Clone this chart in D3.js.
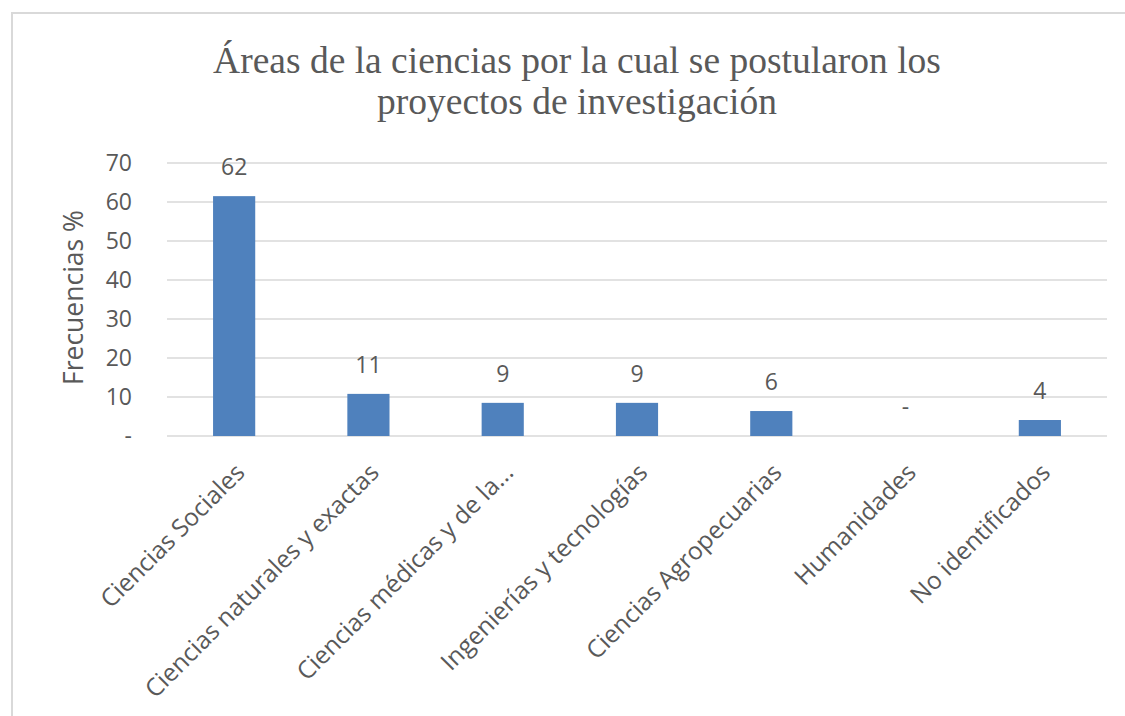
<!DOCTYPE html>
<html>
<head>
<meta charset="utf-8">
<script src="https://cdn.jsdelivr.net/npm/d3@7"></script>
<style>
  html, body { margin: 0; padding: 0; background: #fff; }
  svg { display: block; }
</style>
</head>
<body>
<svg id="chart" width="1125" height="716"></svg>
<script>
const categories = [
  'Ciencias Sociales',
  'Ciencias naturales y exactas',
  'Ciencias médicas y de la...',
  'Ingenierías y tecnologías',
  'Ciencias Agropecuarias',
  'Humanidades',
  'No identificados'
];
const values = [61.5, 10.8, 8.5, 8.5, 6.4, 0, 4.1];
const yTicks = [0, 10, 20, 30, 40, 50, 60, 70];
const titleLines = ['Áreas de la ciencias por la cual se postularon los', 'proyectos de investigación'];

const M = { left: 167, right: 1107, top: 163, bottom: 436 };
const TXT = '#595959';
const FONT = 'Open Sans, sans-serif';

const svg = d3.select('#chart');

// marco del gráfico
svg.append('rect')
  .attr('x', 12).attr('y', 13)
  .attr('width', 1300).attr('height', 900)
  .attr('fill', 'none').attr('stroke', '#d9d9d9').attr('stroke-width', 2);

// título
svg.append('text')
  .attr('text-anchor', 'middle')
  .attr('font-family', 'Liberation Serif, Times New Roman, serif')
  .attr('font-size', '37.5px')
  .attr('fill', TXT)
  .selectAll('tspan').data(titleLines).join('tspan')
  .attr('x', 577)
  .attr('y', (d, i) => 73 + i * 41)
  .text(d => d);

const x = d3.scaleBand().domain(categories).range([M.left, M.right]).paddingInner(0.686).paddingOuter(0.343);
const y = d3.scaleLinear().domain([0, 70]).range([M.bottom, M.top]);

// líneas de cuadrícula
svg.append('g').selectAll('line').data(yTicks).join('line')
  .attr('x1', M.left).attr('x2', M.right)
  .attr('y1', d => y(d)).attr('y2', d => y(d))
  .attr('stroke', '#d9d9d9').attr('stroke-width', 1.5);

// etiquetas del eje Y
const yAxis = d3.axisLeft(y).tickValues(yTicks).tickSize(0).tickPadding(0)
  .tickFormat(d => d === 0 ? '-' : d);
const gy = svg.append('g').attr('transform', `translate(${M.left - 35},0)`).call(yAxis);
gy.select('.domain').remove();
gy.selectAll('text')
  .attr('font-family', FONT).attr('font-size', '23px').attr('fill', TXT);

// barras
svg.append('g').selectAll('rect').data(values).join('rect')
  .attr('x', (d, i) => x(categories[i]))
  .attr('y', d => y(d))
  .attr('width', x.bandwidth())
  .attr('height', d => y(0) - y(d))
  .attr('fill', '#4f81bd');

// etiquetas de datos
svg.append('g').selectAll('text').data(values).join('text')
  .attr('x', (d, i) => x(categories[i]) + x.bandwidth() / 2)
  .attr('y', d => y(d) - 21)
  .attr('text-anchor', 'middle')
  .attr('font-family', FONT).attr('font-size', '23px').attr('fill', TXT)
  .text(d => d === 0 ? '-' : Math.round(d));

// etiquetas del eje X
svg.append('g').selectAll('text').data(categories).join('text')
  .attr('transform', d => `translate(${x(d) + x.bandwidth() / 2 + 12},${M.bottom + 38}) rotate(-45)`)
  .attr('text-anchor', 'end')
  .attr('font-family', FONT).attr('font-size', '24.5px').attr('fill', TXT)
  .text(d => d);

// título del eje Y
svg.append('text')
  .attr('transform', `translate(83,${(M.top + M.bottom) / 2 - 2}) rotate(-90)`)
  .attr('text-anchor', 'middle')
  .attr('font-family', FONT).attr('font-size', '26.5px').attr('fill', TXT)
  .text('Frecuencias %');
</script>
</body>
</html>
